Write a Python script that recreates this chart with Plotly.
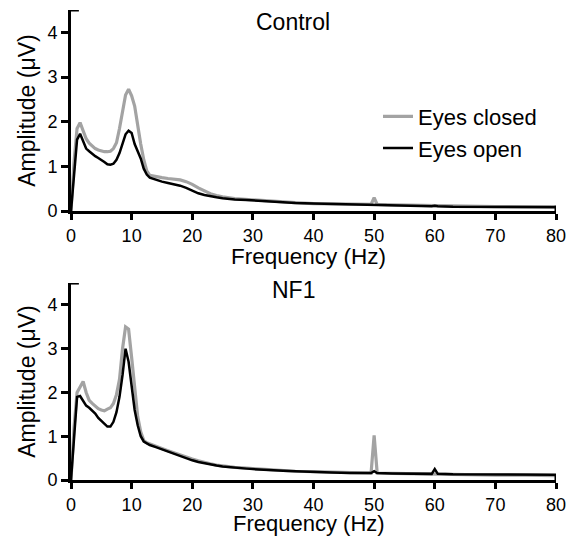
import plotly.graph_objects as go
from plotly.subplots import make_subplots

freq = [0, 0.5, 1, 1.5, 2, 2.5, 3, 3.5, 4, 4.5, 5, 5.5, 6, 6.5, 7, 7.5, 8, 8.5, 9, 9.5,
        10, 10.5, 11, 11.5, 12, 12.5, 13, 14, 15, 16, 17, 18, 19, 20, 21, 22, 23, 24, 25,
        27, 29, 31, 33, 35, 37, 40, 43, 46, 49.5, 50, 50.5, 53, 56, 59.5, 60, 60.5,
        63, 66, 70, 75, 80]

control_closed = [0.0, 1.1, 1.85, 1.98, 1.8, 1.62, 1.52, 1.45, 1.4, 1.37, 1.35, 1.33, 1.33, 1.34, 1.4, 1.53,
                  1.85, 2.25, 2.6, 2.73, 2.58, 2.35, 1.9, 1.5, 1.15, 0.9, 0.8, 0.77, 0.75, 0.73, 0.71,
                  0.7, 0.66, 0.6, 0.52, 0.45, 0.39, 0.35, 0.32, 0.28, 0.26, 0.24, 0.22, 0.2, 0.19,
                  0.17, 0.16, 0.15, 0.15, 0.3, 0.15, 0.14, 0.13, 0.12, 0.12, 0.12, 0.11, 0.11, 0.1,
                  0.1, 0.1]
control_open = [0.0, 0.9, 1.6, 1.73, 1.55, 1.4, 1.34, 1.28, 1.23, 1.19, 1.15, 1.1, 1.05, 1.04, 1.06, 1.15,
                1.3, 1.5, 1.72, 1.8, 1.75, 1.5, 1.32, 1.18, 0.95, 0.82, 0.75, 0.7, 0.66, 0.63, 0.6,
                0.57, 0.52, 0.46, 0.4, 0.36, 0.33, 0.31, 0.29, 0.26, 0.25, 0.23, 0.21, 0.19, 0.18,
                0.17, 0.16, 0.15, 0.14, 0.15, 0.14, 0.13, 0.12, 0.11, 0.12, 0.11, 0.1, 0.1, 0.09,
                0.09, 0.09]
nf1_closed = [0.0, 1.2, 2.0, 2.12, 2.25, 2.0, 1.82, 1.75, 1.68, 1.63, 1.6, 1.58, 1.62, 1.65, 1.75, 1.95,
              2.3, 3.0, 3.5, 3.45, 2.8, 2.1, 1.45, 1.1, 0.9, 0.85, 0.82, 0.78, 0.72, 0.67, 0.62,
              0.58, 0.53, 0.48, 0.44, 0.4, 0.37, 0.34, 0.32, 0.29, 0.27, 0.25, 0.23, 0.22, 0.2,
              0.19, 0.18, 0.17, 0.16, 1.02, 0.16, 0.15, 0.14, 0.13, 0.14, 0.13, 0.12, 0.12, 0.11,
              0.11, 0.1]
nf1_open = [0.0, 1.0, 1.9, 1.92, 1.8, 1.7, 1.65, 1.58, 1.52, 1.42, 1.35, 1.3, 1.22, 1.22, 1.33, 1.55,
            1.9, 2.4, 3.0, 2.7, 2.2, 1.6, 1.25, 1.0, 0.88, 0.83, 0.8, 0.75, 0.7, 0.64, 0.6,
            0.55, 0.5, 0.45, 0.41, 0.38, 0.35, 0.33, 0.31, 0.28, 0.26, 0.24, 0.22, 0.21, 0.2,
            0.18, 0.17, 0.16, 0.16, 0.2, 0.16, 0.15, 0.14, 0.14, 0.25, 0.14, 0.13, 0.13, 0.12,
            0.12, 0.12]

panel_titles = ["Control", "NF1"]
series_names = ["Eyes closed", "Eyes open"]
x_title = "Frequency (Hz)"
y_title = "Amplitude (μV)"
x_ticks = [0, 10, 20, 30, 40, 50, 60, 70, 80]
y_ticks = [0, 1, 2, 3, 4]

GRAY = "#a3a3a3"
BLACK = "#000000"
FONT = "Liberation Sans, Arial, Helvetica, sans-serif"

fig = make_subplots(rows=2, cols=1, vertical_spacing=0.153)

panels = [(control_closed, control_open), (nf1_closed, nf1_open)]
for i, (closed, opened) in enumerate(panels, start=1):
    fig.add_trace(go.Scatter(x=freq, y=closed, mode="lines", name=series_names[0],
                             line=dict(color=GRAY, width=3.2), showlegend=(i == 1)), row=i, col=1)
    fig.add_trace(go.Scatter(x=freq, y=opened, mode="lines", name=series_names[1],
                             line=dict(color=BLACK, width=2.5), showlegend=(i == 1)), row=i, col=1)

axis_common = dict(showgrid=False, zeroline=False, showline=True, linecolor="black", linewidth=3,
                   ticks="outside", ticklen=7, tickwidth=3, tickcolor="black", automargin=False,
                   tickfont=dict(family=FONT, size=18, color="black"))
for i in (1, 2):
    fig.update_xaxes(range=[0, 80], tickvals=x_ticks, ticktext=[str(v) for v in x_ticks],
                     row=i, col=1, **{**axis_common, "ticklen": 6})
    fig.update_yaxes(range=[0, 4.5], tickvals=y_ticks, ticktext=[str(v) for v in y_ticks],
                     title=dict(text=y_title, font=dict(family=FONT, size=23, color="black"),
                                standoff=6),
                     row=i, col=1, **axis_common)

fig.update_layout(yaxis=dict(domain=[0.572, 1.0]), yaxis2=dict(domain=[0.0, 0.419]))

# axis end caps
for xr, yr in (("x", "y"), ("x2", "y2")):
    fig.add_shape(type="line", xref=xr, yref=yr, x0=80, x1=80, y0=-0.12, y1=0.12,
                  line=dict(color="black", width=3))
    fig.add_shape(type="line", xref=xr, yref=yr, x0=0, x1=1.3, y0=4.5, y1=4.5,
                  line=dict(color="black", width=3))

# panel titles
fig.add_annotation(text=panel_titles[0], xref="x domain", yref="y domain", x=0.458, y=0.94,
                   xanchor="center", yanchor="middle",
                   showarrow=False, font=dict(family=FONT, size=23, color="black"))
fig.add_annotation(text=panel_titles[1], xref="x2 domain", yref="y2 domain", x=0.458, y=0.965,
                   xanchor="center", yanchor="middle",
                   showarrow=False, font=dict(family=FONT, size=23, color="black"))
# x axis titles
fig.add_annotation(text=x_title, xref="x domain", yref="y domain", x=0.49, y=0, yshift=-45,
                   xanchor="center", yanchor="middle",
                   showarrow=False, font=dict(family=FONT, size=22.5, color="black"))
fig.add_annotation(text=x_title, xref="x2 domain", yref="y2 domain", x=0.49, y=0, yshift=-43,
                   xanchor="center", yanchor="middle",
                   showarrow=False, font=dict(family=FONT, size=22, color="black"))

fig.update_layout(
    width=572, height=536,
    margin=dict(l=71, r=16, t=10, b=56, autoexpand=False),
    paper_bgcolor="white", plot_bgcolor="white",
    font=dict(family=FONT, color="black"),
    legend=dict(x=0.633, y=0.818, xanchor="left", yanchor="top", bgcolor="rgba(0,0,0,0)",
                font=dict(family=FONT, size=22, color="black"), tracegroupgap=0),
)

fig.write_html("out.html")
